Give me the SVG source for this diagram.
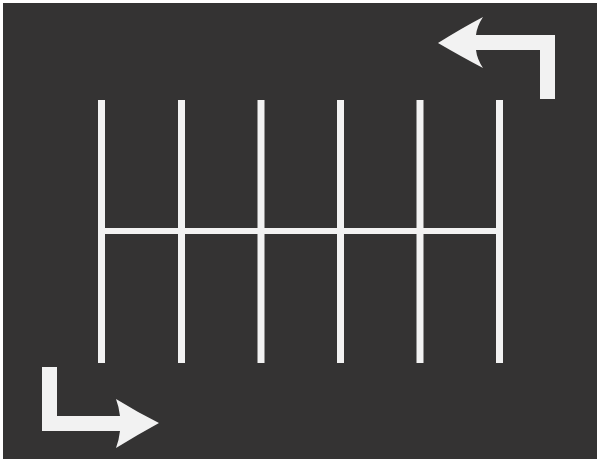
<svg xmlns="http://www.w3.org/2000/svg" width="600" height="463" viewBox="0 0 600 463">
<style>
.bg{fill:#343333}
.mark{fill:#f2f2f2}
</style>
<rect width="600" height="463" fill="#ffffff"/>
<rect class="bg" x="3" y="3" width="594" height="456"/>
<g id="stalls">
<rect class="mark" x="98" y="100" width="7" height="263"/>
<rect class="mark" x="178" y="100" width="7" height="263"/>
<rect class="mark" x="257.5" y="100" width="7" height="263"/>
<rect class="mark" x="337" y="100" width="7" height="263"/>
<rect class="mark" x="416.5" y="100" width="7" height="263"/>
<rect class="mark" x="496" y="100" width="7" height="263"/>
<rect class="mark" x="98" y="228" width="405" height="6"/>
</g>
<g id="arrow-top">
<path class="mark" d="M438,43 Q462,28 483,17 Q477,26 476,35 L555,35 L555,99 L540,99 L540,50 L476,50 Q477,59 483,68 Q462,57 438,43 Z"/>
</g>
<g id="arrow-bottom">
<path class="mark" d="M42,367 L57,367 L57,416 L120,416 Q119,407 116,399 Q137,412 159,423 Q137,435 116,448 Q119,440 120,431 L42,431 Z"/>
</g>
</svg>
